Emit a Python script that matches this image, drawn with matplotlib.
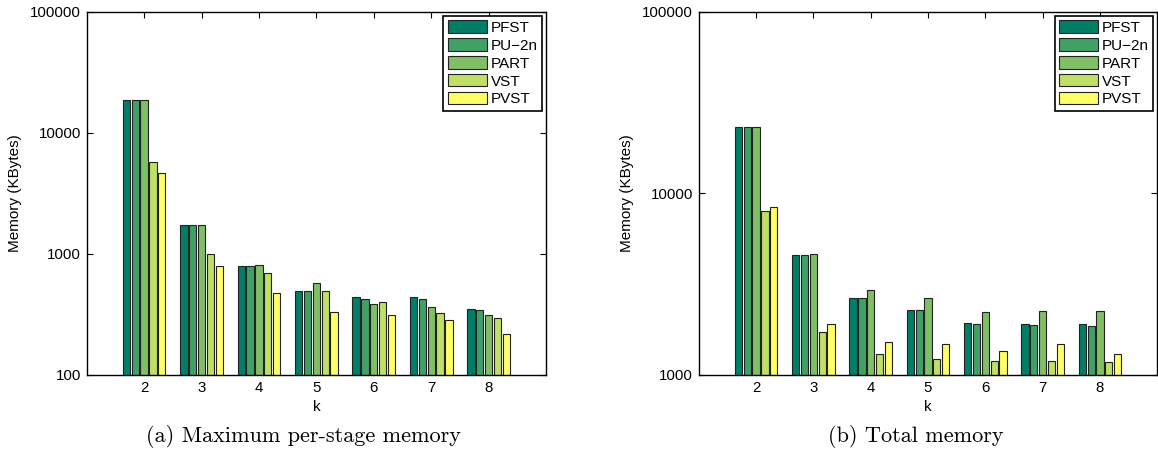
import numpy as np
import matplotlib.pyplot as plt

# data (KBytes)
k = [2, 3, 4, 5, 6, 7, 8]
schemes = ['PFST', 'PU\u22122n', 'PART', 'VST', 'PVST']

# (a) maximum per-stage memory
stage_pfst = [18750, 1726, 796, 494, 438, 438, 349]
stage_pu2n = [18750, 1726, 796, 494, 427, 427, 342]
stage_part = [18750, 1746, 816, 572, 386, 365, 311]
stage_vst = [5754, 1000, 701, 494, 404, 323, 298]
stage_pvst = [4642, 801, 473, 332, 313, 287, 217]

# (b) total memory
total_pfst = [23330, 4590, 2669, 2283, 1944, 1919, 1902]
total_pu2n = [23330, 4590, 2669, 2273, 1911, 1879, 1864]
total_part = [23330, 4648, 2929, 2647, 2225, 2262, 2244]
total_vst = [8057, 1734, 1311, 1220, 1194, 1190, 1184]
total_pvst = [8440, 1919, 1520, 1489, 1362, 1489, 1305]

colors = ['#007f66', '#40a066', '#80bf66', '#bfdf66', '#ffff66']

plt.rcParams['font.family'] = ['Liberation Sans', 'DejaVu Sans']

fig = plt.figure(figsize=(11.58, 4.5), dpi=100)
ax1 = fig.add_axes([0.0749, 0.1667, 0.3966, 0.8067])
ax2 = fig.add_axes([0.6034, 0.1667, 0.3960, 0.8067])


def draw(ax, series, ylim):
    x = np.array(k, dtype=float)
    pitch = 0.154
    for i, vals in enumerate(series):
        ax.bar(x + (i - 2) * pitch, vals, width=0.127, bottom=0,
               color=colors[i], edgecolor='#222222', linewidth=0.8,
               label=schemes[i], zorder=2)
    ax.set_yscale('log')
    ax.set_ylim(ylim)
    ax.set_xlim(1, 9)
    ax.set_xticks(k)
    ax.minorticks_off()
    ax.tick_params(direction='in', top=True, right=True, length=4,
                   width=0.8, labelsize=10.8, pad=4, colors='black')
    ax.yaxis.set_major_formatter(plt.FuncFormatter(lambda v, p: '%d' % v))
    for s in ax.spines.values():
        s.set_linewidth(1.0)
    ax.set_xlabel('k', fontsize=11)
    ax.set_ylabel('Memory (KBytes)', fontsize=11)
    ax.xaxis.set_label_coords(0.5, -0.068)
    ax.yaxis.set_label_coords(-0.142, 0.5)
    leg = ax.legend(loc='upper right', fontsize=11, fancybox=False,
                    handlelength=2.55, handleheight=0.88, labelspacing=0.22,
                    borderpad=0.3, handletextpad=0.25, borderaxespad=0.25)
    leg.get_frame().set_edgecolor('black')
    leg.get_frame().set_linewidth(1.2)
    leg.get_frame().set_alpha(1)


draw(ax1, [stage_pfst, stage_pu2n, stage_part, stage_vst, stage_pvst], (100, 100000))
draw(ax2, [total_pfst, total_pu2n, total_part, total_vst, total_pvst], (1000, 100000))

fig.text(303 / 1158, 1 - 437 / 450, '(a) Maximum per-stage memory',
         family='cmr10', fontsize=16, ha='center', va='center')
fig.text(916 / 1158, 1 - 437 / 450, '(b) Total memory',
         family='cmr10', fontsize=16, ha='center', va='center')

plt.savefig('out.png', dpi=100)
plt.close()
